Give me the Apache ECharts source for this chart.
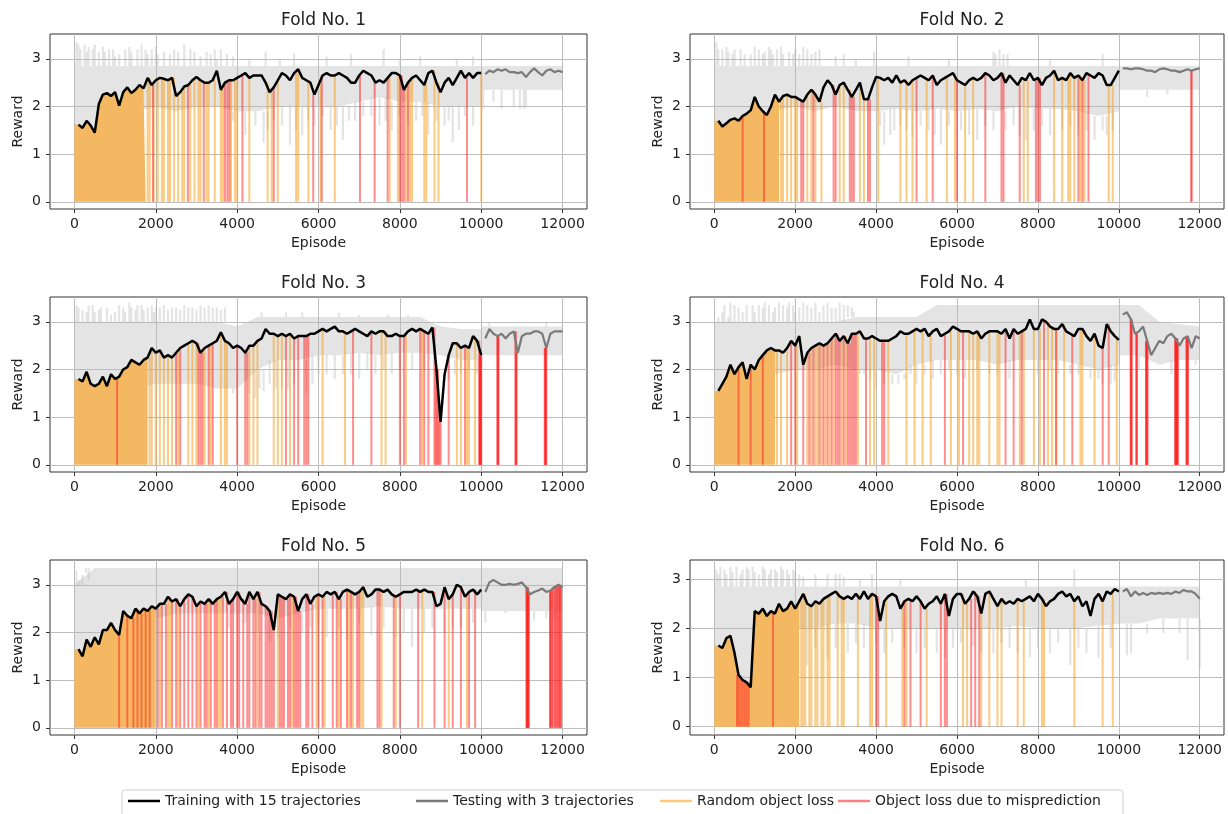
<!DOCTYPE html>
<html><head><meta charset="utf-8">
<script src="https://cdn.jsdelivr.net/npm/echarts@6/dist/echarts.min.js"></script>
<style>html,body{margin:0;padding:0;background:#fff}#c{width:1228px;height:814px}</style>
</head><body><div id="c"></div><script>
// ---------------- DATA ----------------
const foldTitles = ['Fold No. 1','Fold No. 2','Fold No. 3','Fold No. 4','Fold No. 5','Fold No. 6'];
const xTicks = [0,2000,4000,6000,8000,10000,12000];
const yTicks = [0,1,2,3];
const trainEpisodes = [100,200,300,400,500,600,700,800,900,1000,1100,1200,1300,1400,1500,1600,1700,1800,1900,2000,2100,2200,2300,2400,2500,2600,2700,2800,2900,3000,3100,3200,3300,3400,3500,3600,3700,3800,3900,4000,4100,4200,4300,4400,4500,4600,4700,4800,4900,5000,5100,5200,5300,5400,5500,5600,5700,5800,5900,6000,6100,6200,6300,6400,6500,6600,6700,6800,6900,7000,7100,7200,7300,7400,7500,7600,7700,7800,7900,8000,8100,8200,8300,8400,8500,8600,8700,8800,8900,9000,9100,9200,9300,9400,9500,9600,9700,9800,9900,10000];
const testEpisodes = [10100,10200,10300,10400,10500,10600,10700,10800,10900,11000,11100,11200,11300,11400,11500,11600,11700,11800,11900,12000];
const bandEpisodes = [0,500,1000,1500,2000,2500,3000,3500,4000,4500,5000,5500,6000,6500,7000,7500,8000,8500,9000,9500,10000];
const testBandEpisodes = [10000,10500,11000,11500,12000];

// Fold 1
const train1 = [1.62,1.55,1.70,1.60,1.45,2.05,2.25,2.28,2.22,2.30,2.02,2.30,2.40,2.28,2.35,2.45,2.38,2.60,2.45,2.55,2.60,2.58,2.55,2.60,2.22,2.30,2.42,2.45,2.55,2.62,2.55,2.50,2.50,2.55,2.75,2.35,2.50,2.55,2.55,2.60,2.65,2.70,2.60,2.65,2.65,2.65,2.50,2.30,2.40,2.55,2.70,2.65,2.55,2.70,2.78,2.60,2.55,2.50,2.25,2.45,2.65,2.70,2.65,2.65,2.70,2.65,2.60,2.50,2.50,2.65,2.75,2.70,2.65,2.50,2.55,2.50,2.60,2.70,2.70,2.65,2.35,2.50,2.60,2.65,2.55,2.45,2.70,2.75,2.50,2.30,2.50,2.60,2.45,2.60,2.75,2.60,2.70,2.60,2.70,2.70];
const test1 = [2.68,2.75,2.72,2.78,2.75,2.78,2.72,2.72,2.70,2.72,2.62,2.72,2.80,2.72,2.65,2.75,2.78,2.72,2.75,2.72];
const bandTop1 = [2.85,2.85,2.85,2.85,2.85,2.85,2.85,2.85,2.85,2.85,2.85,2.85,2.85,2.85,2.85,2.85,2.85,2.85,2.85,2.85,2.85];
const bandLow1 = [1.5,1.5,1.8,1.9,2.0,1.9,2.0,2.0,1.9,1.9,2.0,2.0,2.0,2.0,2.1,2.2,2.1,2.1,2.0,2.0,2.0];
const testBandTop1 = [2.85,2.85,2.85,2.85,2.85];
const testBandLow1 = [2.35,2.35,2.35,2.35,2.35];
const rawHigh1 = [[50,3.35],[100,3.3],[150,3.2],[250,3.3],[300,3.15],[350,3.25],[450,3.2],[500,3.3],[600,3.15],[700,3.25],[750,3.15],[850,3.2],[950,3.2],[1000,3.05],[1100,3.1],[1250,3.2],[1350,3.25],[1400,3.15],[1550,3.2],[1650,3.3],[1750,3.2],[1800,3.1],[1900,3.2],[2000,3.25],[2050,3.1],[2200,3.15],[2350,3.1],[2450,3.2],[2550,3.15],[2700,3.3],[2850,3.2],[2950,3.15],[3100,3.05],[3250,3.15],[3350,3.1],[3450,3.2],[3500,3.0],[3600,3.2],[3750,3.1],[3900,3.05],[4300,3.0],[4700,3.15],[5050,3.0],[5400,3.1],[6200,3.05],[6800,3.1],[7600,3.2],[8000,3.0],[8500,3.05],[9400,3.0],[9800,3.05]];
const rawLow1 = [[3900,1.7],[4000,1.9],[4200,1.4],[4450,1.6],[4650,1.25],[4750,1.5],[4900,1.7],[5100,1.6],[5300,1.2],[5450,1.5],[5600,1.4],[5750,1.7],[5900,1.6],[6100,1.8],[6300,1.5],[6450,1.6],[6600,1.3],[6750,1.7],[6900,1.7],[7100,1.8],[7300,1.8],[7500,1.6],[7650,1.7],[7800,1.5],[8000,1.8],[8200,1.6],[8400,1.7],[8550,1.8],[8700,1.4],[8900,1.7],[9100,1.6],[9200,1.7],[9300,1.25],[9450,1.5],[9600,1.8],[9800,1.6],[10050,1.95],[10300,2.1],[10500,1.95],[10800,2.0],[10950,1.95],[11050,1.95],[11100,2.0]];
const denseLossEnd1 = 1750;
const randomLoss1 = [1800,1850,1950,2050,2150,2200,2300,2350,2450,2550,2650,2700,2850,2950,3050,3100,3250,3300,3450,3600,3650,3850,3950,4000,4300,4750,4850,5000,5450,5500,5750,6050,6400,7750,7950,8150,8250,8300,8600,8650,8850,8950,10000];
const mispredLoss1 = [1930,2790,3180,3700,3760,3810,4130,4900,5870,6080,7020,7380,7700,8000,8050,8100,8200,9650];

// Fold 2
const train2 = [1.70,1.58,1.65,1.72,1.75,1.70,1.80,1.85,1.92,2.20,2.00,1.90,1.82,2.00,2.25,2.10,2.22,2.25,2.20,2.20,2.15,2.10,2.25,2.35,2.25,2.10,2.40,2.55,2.45,2.25,2.45,2.50,2.35,2.20,2.35,2.50,2.15,2.15,2.40,2.62,2.60,2.55,2.60,2.50,2.65,2.50,2.55,2.45,2.55,2.60,2.65,2.60,2.55,2.65,2.45,2.55,2.60,2.65,2.70,2.55,2.50,2.45,2.55,2.60,2.55,2.60,2.70,2.65,2.55,2.60,2.70,2.50,2.65,2.55,2.45,2.60,2.55,2.70,2.55,2.60,2.45,2.60,2.65,2.75,2.55,2.60,2.55,2.70,2.60,2.65,2.55,2.70,2.65,2.60,2.70,2.65,2.45,2.45,2.60,2.75];
const test2 = [2.80,2.80,2.78,2.80,2.80,2.78,2.75,2.75,2.72,2.78,2.80,2.78,2.75,2.75,2.72,2.75,2.78,2.75,2.78,2.80];
const bandTop2 = [2.85,2.85,2.85,2.85,2.85,2.85,2.85,2.85,2.85,2.85,2.85,2.85,2.85,2.85,2.85,2.85,2.85,2.85,2.85,2.85,2.85];
const bandLow2 = [1.6,1.6,1.8,1.9,2.0,1.9,2.0,1.9,1.9,1.95,1.9,1.95,1.9,1.95,1.9,2.0,1.95,1.95,1.9,1.8,1.9];
const testBandTop2 = [2.85,2.85,2.85,2.85,2.85];
const testBandLow2 = [2.35,2.35,2.35,2.35,2.35];
const rawHigh2 = [[50,3.35],[100,3.2],[200,3.2],[300,3.25],[350,3.15],[450,3.1],[500,3.2],[650,3.2],[750,3.1],[900,3.1],[1000,3.25],[1100,3.2],[1200,3.1],[1250,3.15],[1350,3.25],[1400,3.2],[1450,3.1],[1550,3.2],[1650,3.25],[1700,3.1],[1850,3.15],[1950,3.1],[2000,3.2],[2100,3.1],[2200,3.25],[2300,3.2],[2400,3.1],[2500,3.15],[2600,3.2],[3000,3.05],[3200,3.1],[3500,3.0],[3950,3.15],[4800,3.05],[5800,3.0],[6900,3.15],[6950,3.1],[7050,3.2],[7150,3.1],[7250,3.1],[8300,3.0],[9600,3.1]];
const rawLow2 = [[4100,1.6],[4200,1.2],[4350,1.4],[4450,1.5],[4600,1.6],[4750,1.5],[4900,1.35],[5100,1.6],[5300,1.5],[5450,1.4],[5600,1.2],[5800,1.6],[6100,1.5],[6300,1.4],[6500,1.3],[6700,1.6],[6900,1.5],[7200,1.5],[7400,1.6],[7550,1.4],[7700,1.3],[7900,1.5],[8100,1.6],[8300,1.4],[8600,1.5],[8800,1.6],[9000,1.4],[9200,1.5],[9400,1.3],[9600,1.5],[9700,1.4],[9850,1.5],[10700,2.2],[11200,2.25]];
const denseLossEnd2 = 1600;
const randomLoss2 = [1650,1700,1800,1900,2000,2050,2300,2400,2500,2650,3100,3200,3600,3700,4050,4600,4750,4900,5250,5750,5950,6200,6400,7650,7750,8400,8600,8750,8800,8900,9050,9150,9750,9850];
const mispredLoss2 = [700,1230,2150,2200,2450,2950,3000,3350,3400,3450,3800,3850,5000,5400,6000,6700,7100,7150,7550,7950,8000,8050,9000,9100,9250,11790,11800];

// Fold 3
const train3 = [1.80,1.75,1.95,1.70,1.65,1.70,1.85,1.65,1.90,1.80,1.85,2.00,2.05,2.20,2.15,2.10,2.20,2.25,2.45,2.35,2.40,2.25,2.30,2.25,2.35,2.45,2.50,2.55,2.60,2.55,2.35,2.45,2.50,2.55,2.60,2.78,2.60,2.55,2.45,2.50,2.45,2.35,2.50,2.50,2.60,2.65,2.85,2.75,2.75,2.70,2.75,2.70,2.75,2.65,2.70,2.70,2.70,2.75,2.75,2.80,2.85,2.80,2.85,2.90,2.80,2.80,2.75,2.80,2.85,2.80,2.75,2.70,2.80,2.75,2.80,2.80,2.70,2.70,2.75,2.70,2.70,2.80,2.85,2.80,2.85,2.80,2.75,2.88,2.00,0.90,1.90,2.30,2.55,2.55,2.45,2.50,2.45,2.70,2.60,2.30];
const test3 = [2.65,2.85,2.75,2.70,2.75,2.65,2.75,2.80,2.35,2.70,2.75,2.75,2.80,2.80,2.75,2.45,2.75,2.80,2.80,2.80];
const bandTop3 = [3.0,3.0,3.0,3.0,3.0,3.0,3.0,3.0,2.9,3.1,3.1,3.1,3.1,3.1,3.1,3.1,3.1,3.1,2.9,2.85,2.85];
const bandLow3 = [1.6,1.6,1.6,1.6,1.7,1.7,1.7,1.6,1.6,2.0,2.2,2.2,2.3,2.3,2.35,2.3,2.35,2.35,2.3,2.2,2.2];
const testBandTop3 = [2.9,2.9,2.9,2.9,2.9];
const testBandLow3 = [2.3,2.3,2.3,2.3,2.3];
const rawHigh3 = [[50,3.35],[100,3.3],[200,3.25],[300,3.2],[350,3.35],[450,3.35],[500,3.2],[600,3.25],[650,3.3],[800,3.3],[900,3.15],[1000,3.2],[1100,3.35],[1200,3.3],[1250,3.2],[1350,3.4],[1400,3.3],[1500,3.25],[1550,3.35],[1650,3.35],[1700,3.25],[1800,3.3],[1900,3.35],[1950,3.2],[2000,3.3],[2100,3.3],[2200,3.35],[2300,3.25],[2400,3.3],[2500,3.3],[2600,3.25],[2700,3.35],[2800,3.3],[2900,3.3],[3000,3.25],[3100,3.35],[3200,3.3],[3300,3.35],[3400,3.3],[3500,3.3],[3600,3.25],[3700,3.3],[4600,3.2],[5200,3.2],[5600,3.2],[6500,3.2],[7000,3.15],[7700,3.15],[8200,3.15],[10200,3.0],[11600,3.0]];
const rawLow3 = [[3900,1.5],[4300,1.5],[4450,1.4],[4550,1.6],[4650,1.55],[4800,1.7],[4950,1.6],[5100,1.6],[5250,1.6],[5400,1.7],[5700,1.5],[5850,1.7],[6000,1.9],[6200,1.9],[6400,1.8],[6600,1.9],[6800,1.9],[7000,1.8],[7200,2.0],[7400,1.9],[7600,2.0],[7800,1.9],[8000,2.0],[8300,2.0],[8600,2.0],[9200,1.8],[9350,1.9],[9500,1.9],[9700,2.0],[9900,1.9]];
const denseLossEnd3 = 1800;
const randomLoss3 = [1850,1900,2000,2100,2200,2300,2400,2550,2800,2900,3000,3200,3350,3600,3700,3750,4300,4400,4500,4900,5000,5100,5300,6100,6650,7550,7650,8150,8550,9400,9500,9650,9700,9850];
const mispredLoss3 = [1050,2500,2600,3050,3100,3150,3300,3400,4000,4200,4250,5200,5400,5500,5650,5700,5750,6850,7300,8000,8100,8500,8600,8700,8850,8880,8910,8940,8970,9000,9200,9600,9950,9960,9970,9980,9990,10000,10395,10405,10415,10425,10840,10850,10860,10870,11560,11570,11580,11590,11600];

// Fold 4
const train4 = [1.55,1.70,1.85,2.10,1.90,2.05,2.15,1.80,2.10,2.00,2.20,2.30,2.40,2.45,2.40,2.40,2.35,2.45,2.60,2.50,2.70,2.10,2.35,2.45,2.50,2.55,2.50,2.55,2.65,2.75,2.60,2.70,2.55,2.75,2.75,2.80,2.65,2.65,2.70,2.65,2.60,2.60,2.60,2.65,2.70,2.80,2.75,2.75,2.80,2.85,2.80,2.85,2.70,2.80,2.85,2.70,2.75,2.80,2.90,2.85,2.80,2.80,2.80,2.75,2.80,2.65,2.75,2.80,2.80,2.80,2.75,2.85,2.65,2.85,2.75,2.80,2.85,3.05,2.85,2.85,3.05,3.00,2.90,2.85,2.85,2.95,2.80,2.75,2.70,2.85,2.85,2.70,2.60,2.75,2.50,2.45,2.95,2.80,2.70,2.62];
const test4 = [3.15,3.20,3.05,2.75,2.80,2.90,2.60,2.30,2.45,2.60,2.55,2.70,2.75,2.65,2.50,2.65,2.70,2.45,2.70,2.65];
const bandTop4 = [3.0,3.0,3.0,3.0,3.0,3.0,3.0,3.1,3.1,3.1,3.1,3.35,3.35,3.35,3.35,3.35,3.35,3.35,3.35,3.35,3.35];
const bandLow4 = [1.5,1.6,1.8,1.9,2.0,2.0,2.1,2.0,2.0,1.9,2.1,2.2,2.2,2.2,2.1,2.2,2.2,2.2,2.1,2.0,2.1];
const testBandTop4 = [3.35,3.35,3.0,2.95,2.9];
const testBandLow4 = [2.3,2.3,2.1,2.2,2.2];
const rawHigh4 = [[100,3.1],[200,3.2],[250,3.35],[350,3.1],[400,3.4],[500,3.35],[600,3.3],[700,3.2],[800,3.35],[950,3.35],[1000,3.2],[1100,3.35],[1200,3.3],[1250,3.4],[1350,3.35],[1450,3.2],[1500,3.3],[1600,3.4],[1700,3.35],[1800,3.3],[1850,3.4],[1950,3.35],[2000,3.2],[2100,3.3],[2200,3.4],[2300,3.35],[2400,3.3],[2500,3.4],[2600,3.2],[2700,3.35],[2800,3.4],[2900,3.3],[3000,3.3],[3100,3.4],[3200,3.35],[3300,3.35],[3400,3.3],[3450,3.2]];
const rawLow4 = [[3600,1.9],[3700,1.9],[3850,1.8],[4000,1.6],[4200,1.7],[4400,1.7],[4550,1.7],[4700,1.8],[4850,1.9],[5000,1.7],[5200,1.9],[5400,1.8],[5600,1.9],[5800,2.0],[6000,1.9],[6200,1.8],[6500,2.0],[6800,1.9],[7000,1.9],[7300,1.8],[7600,2.0],[8000,1.9],[8300,2.0],[8500,1.9],[8800,1.9],[9000,1.9],[9300,1.8],[9500,1.8],[9600,1.7],[9800,1.7],[9900,1.75],[10500,2.0],[11300,1.9],[11900,2.1]];
const denseLossEnd4 = 1500;
const randomLoss4 = [1550,1650,1800,2050,2300,2400,2500,2550,2650,2750,2850,2950,3150,3250,3550,3850,3950,4300,4750,4950,5150,5350,5850,6050,6300,6400,6500,6550,6800,7000,7050,7550,7650,7900,8050,8250,8350,8450,8650,9050,9100,9400,9950];
const mispredLoss4 = [600,900,1200,1900,2000,2200,2350,2450,2600,2700,2800,2900,3000,3050,3100,3200,3300,3350,3400,3450,3500,3750,4150,4200,5700,6150,7200,7400,7600,8150,8450,8850,9600,9750,10290,10300,10310,10320,10430,10440,10450,10670,10680,10690,10700,10710,11390,11400,11410,11420,11430,11440,11450,11460,11670,11680,11690,11700,11710];

// Fold 5
const train5 = [1.65,1.50,1.85,1.70,1.90,1.75,2.05,2.05,2.20,2.05,1.95,2.45,2.35,2.30,2.50,2.40,2.50,2.45,2.55,2.50,2.60,2.60,2.75,2.65,2.70,2.55,2.70,2.80,2.75,2.55,2.65,2.60,2.70,2.60,2.70,2.75,2.85,2.60,2.70,2.85,2.70,2.60,2.85,2.70,2.85,2.60,2.55,2.45,2.05,2.80,2.75,2.70,2.80,2.75,2.45,2.70,2.80,2.60,2.75,2.80,2.75,2.85,2.80,2.85,2.70,2.85,2.90,2.85,2.80,2.85,2.95,2.75,2.80,2.90,2.90,2.85,2.90,2.80,2.75,2.80,2.85,2.85,2.85,2.90,2.85,2.90,2.85,2.85,2.55,2.60,2.95,2.70,2.80,3.00,2.95,2.75,2.85,2.90,2.80,2.90];
const test5 = [2.85,3.05,3.10,3.05,3.00,3.00,3.02,3.00,3.02,3.05,2.95,2.80,2.85,2.88,2.92,2.85,2.88,2.95,3.00,2.95];
const bandTop5 = [3.0,3.35,3.35,3.35,3.35,3.35,3.35,3.35,3.35,3.35,3.35,3.35,3.35,3.35,3.35,3.35,3.35,3.35,3.35,3.35,3.35];
const bandLow5 = [1.5,1.7,2.0,2.2,2.3,2.4,2.4,2.4,2.4,2.4,2.3,2.4,2.5,2.5,2.5,2.55,2.5,2.5,2.5,2.5,2.5];
const testBandTop5 = [3.35,3.35,3.35,3.35,3.35];
const testBandLow5 = [2.45,2.45,2.45,2.45,2.45];
const rawHigh5 = [[50,3.3],[120,3.1],[200,3.2],[280,3.25],[350,3.1]];
const rawLow5 = [[3800,2.1],[4200,2.2],[4500,2.0],[4800,1.8],[5000,1.9],[5300,2.1],[5600,2.0],[5800,2.1],[6000,2.2],[6200,1.9],[6500,2.1],[6700,1.85],[7000,2.2],[7300,1.95],[7600,2.1],[7900,1.9],[8100,2.0],[8300,1.7],[8600,2.0],[8800,2.1],[9100,2.0],[9300,2.1],[9500,2.1],[9800,2.2],[10100,2.2],[10600,2.4],[11300,2.25],[11600,2.3],[11800,2.3]];
const denseLossEnd5 = 2000;
const randomLoss5 = [2100,2300,2350,2550,3050,3300,3550,3600,4500,5000,5350,5950,6150,6500,6750,6850,7050,7100,7550,7900,8550,9200,9650];
const mispredLoss5 = [1100,1300,1450,1550,1650,1750,1850,2050,2150,2250,2400,2500,2600,2700,2800,2900,3000,3100,3200,3250,3350,3450,3500,3650,3750,3850,3900,4000,4050,4150,4250,4300,4400,4450,4550,4600,4700,4750,4800,4850,4900,5050,5100,5150,5250,5300,5400,5450,5500,5550,5700,5750,5850,6000,6100,6350,6450,6550,6700,6800,6950,7000,7450,7500,7850,8000,8450,8850,9100,9300,9500,9700,9850,11110,11120,11130,11140,11150,11160,11170,11690,11700,11710,11750,11760,11810,11820,11860,11870,11910,11920,11950,11960];

// Fold 6
const train6 = [1.65,1.60,1.80,1.85,1.50,1.05,0.95,0.90,0.80,2.35,2.30,2.40,2.25,2.35,2.30,2.50,2.35,2.40,2.55,2.40,2.55,2.70,2.50,2.45,2.55,2.50,2.60,2.65,2.70,2.75,2.65,2.60,2.65,2.60,2.70,2.60,2.75,2.60,2.70,2.65,2.15,2.55,2.65,2.70,2.65,2.40,2.55,2.60,2.55,2.65,2.55,2.40,2.50,2.55,2.65,2.50,2.70,2.25,2.60,2.70,2.70,2.50,2.60,2.75,2.65,2.30,2.70,2.75,2.60,2.45,2.60,2.50,2.55,2.50,2.60,2.55,2.60,2.65,2.55,2.70,2.60,2.45,2.55,2.60,2.70,2.75,2.65,2.70,2.55,2.65,2.45,2.55,2.25,2.60,2.70,2.55,2.75,2.70,2.80,2.75];
const test6 = [2.75,2.80,2.65,2.75,2.68,2.72,2.68,2.72,2.70,2.72,2.70,2.72,2.70,2.75,2.72,2.78,2.75,2.75,2.70,2.60];
const bandTop6 = [2.85,2.85,2.85,2.85,2.85,2.85,2.85,2.85,2.85,2.85,2.85,2.85,2.85,2.85,2.85,2.85,2.85,2.85,2.85,2.85,2.85];
const bandLow6 = [1.5,0.8,0.8,2.0,2.0,2.0,2.1,2.1,2.0,2.0,2.0,2.0,2.0,2.0,2.0,2.05,2.0,2.0,2.0,2.05,2.1];
const testBandTop6 = [2.85,2.85,2.85,2.85,2.85];
const testBandLow6 = [2.1,2.1,2.2,2.2,2.2];
const rawHigh6 = [[50,3.2],[100,3.1],[150,3.25],[250,3.2],[300,3.1],[400,3.25],[450,3.15],[550,3.25],[650,3.1],[700,3.2],[800,3.25],[850,3.2],[950,3.25],[1000,3.15],[1100,3.1],[1200,3.25],[1250,3.2],[1350,3.1],[1400,3.2],[1500,3.2],[1550,3.15],[1650,3.25],[1700,3.2],[1800,3.2],[1850,3.1],[1950,3.2],[2000,3.15],[2100,3.1],[2200,3.05],[2500,3.1],[2800,3.1],[3000,3.1],[3100,3.1],[3200,3.05],[3600,3.0],[3900,3.1],[4600,3.0],[7700,3.0],[8900,3.2]];
const rawLow6 = [[2300,1.25],[2500,1.6],[2800,1.4],[3000,1.6],[3300,1.5],[3500,1.7],[3700,1.6],[4000,1.7],[4200,1.5],[4400,1.7],[4700,1.6],[5000,1.5],[5200,1.6],[5500,1.5],[5700,1.4],[5900,1.6],[6100,1.7],[6400,1.65],[6600,1.5],[6900,1.5],[7100,1.7],[7300,1.6],[7500,1.5],[7800,1.4],[8000,1.6],[8300,1.5],[8500,1.7],[8800,1.25],[9000,1.6],[9200,1.5],[9500,1.4],[9800,1.6],[10200,1.45],[10300,1.5],[10700,1.9],[11100,1.9],[11500,1.9],[11700,1.35],[12000,1.2]];
const denseLossEnd6 = 2100;
const randomLoss6 = [2150,2200,2250,2350,2400,2500,2550,2650,2700,2800,2850,3050,3150,3200,3550,3850,3900,4250,4650,4750,5250,6150,6250,6600,6800,7000,7100,7500,7650,8100,8150,8900,9600,9850];
const mispredLoss6 = [560,600,650,700,750,800,850,1450,4000,4050,4700,4850,5100,5600,5700,5750,6350,6450,6550];

const yMax = [3.52,3.52,3.52,3.52,3.52,3.39];
const yMin = [-0.15,-0.15,-0.15,-0.15,-0.15,-0.17];

// ---------------- BUILD ----------------
const folds = [
 {train:train1,test:test1,bt:bandTop1,bl:bandLow1,tbt:testBandTop1,tbl:testBandLow1,hi:rawHigh1,lo:rawLow1,dense:denseLossEnd1,rnd:randomLoss1,mis:mispredLoss1},
 {train:train2,test:test2,bt:bandTop2,bl:bandLow2,tbt:testBandTop2,tbl:testBandLow2,hi:rawHigh2,lo:rawLow2,dense:denseLossEnd2,rnd:randomLoss2,mis:mispredLoss2},
 {train:train3,test:test3,bt:bandTop3,bl:bandLow3,tbt:testBandTop3,tbl:testBandLow3,hi:rawHigh3,lo:rawLow3,dense:denseLossEnd3,rnd:randomLoss3,mis:mispredLoss3},
 {train:train4,test:test4,bt:bandTop4,bl:bandLow4,tbt:testBandTop4,tbl:testBandLow4,hi:rawHigh4,lo:rawLow4,dense:denseLossEnd4,rnd:randomLoss4,mis:mispredLoss4},
 {train:train5,test:test5,bt:bandTop5,bl:bandLow5,tbt:testBandTop5,tbl:testBandLow5,hi:rawHigh5,lo:rawLow5,dense:denseLossEnd5,rnd:randomLoss5,mis:mispredLoss5},
 {train:train6,test:test6,bt:bandTop6,bl:bandLow6,tbt:testBandTop6,tbl:testBandLow6,hi:rawHigh6,lo:rawLow6,dense:denseLossEnd6,rnd:randomLoss6,mis:mispredLoss6}
];

const FONT = 'DejaVu Sans';
const GRAY = 'rgba(185,185,185,0.38)';
const ORANGE = 'rgba(248,160,30,0.55)';
const RED = 'rgba(255,30,30,0.5)';
const DENSE = '#f5b862';
const NAMES = ['Training with 15 trajectories','Testing with 3 trajectories','Random object loss','Object loss due to misprediction'];

const gridPos = [
 {left:50, top:34, width:537, height:175},
 {left:690, top:34, width:534, height:175},
 {left:50, top:297, width:537, height:175},
 {left:690, top:297, width:534, height:175},
 {left:50, top:560, width:537, height:175},
 {left:690, top:560, width:534, height:175}
];

function nearest(eps, vals, x){
  let b=0, bd=Infinity;
  for(let k=0;k<eps.length;k++){const d=Math.abs(eps[k]-x); if(d<bd){bd=d;b=k;}}
  return vals[b];
}
function curveAt(f,x){ return x<=10000 ? nearest(trainEpisodes,f.train,x) : nearest(testEpisodes,f.test,x); }
function bandAt(f,x,top){
  if(x<=10000) return nearest(bandEpisodes, top?f.bt:f.bl, x);
  return nearest(testBandEpisodes, top?f.tbt:f.tbl, x);
}

const grids=[], xAxes=[], yAxes=[], series=[], titles=[];
folds.forEach((f,i)=>{
  const g=gridPos[i];
  grids.push(Object.assign({show:true,borderColor:'#333',borderWidth:1,backgroundColor:'transparent',containLabel:false},g));
  titles.push({text:foldTitles[i], left:g.left+g.width/2, top:g.top-27, textAlign:'center',
    textStyle:{fontFamily:FONT,fontSize:17,fontWeight:'normal',color:'#222'}});
  xAxes.push({gridIndex:i,type:'value',min:-600,max:12600,
    axisLine:{show:false,onZero:false},
    axisTick:{show:true,length:4,inside:false,customValues:xTicks,lineStyle:{color:'#333'}},
    axisLabel:{customValues:xTicks,formatter:v=>String(v),fontFamily:FONT,fontSize:14,color:'#222',margin:8},
    splitLine:{show:true,lineStyle:{color:'#bdbdbd',width:1}},
    name:'Episode',nameLocation:'middle',nameGap:27,nameTextStyle:{fontFamily:FONT,fontSize:14,color:'#222'}});
  yAxes.push({gridIndex:i,type:'value',min:yMin[i],max:yMax[i],
    axisLine:{show:false,onZero:false},
    axisTick:{show:true,length:4,inside:false,customValues:yTicks,lineStyle:{color:'#333'}},
    axisLabel:{customValues:yTicks,formatter:v=>String(v),fontFamily:FONT,fontSize:14,color:'#222',margin:9},
    splitLine:{show:true,lineStyle:{color:'#bdbdbd',width:1}},
    name:'Reward',nameLocation:'middle',nameGap:25,nameRotate:90,nameTextStyle:{fontFamily:FONT,fontSize:14,color:'#222'}});

  // gray raw-reward band (training + testing)
  [[bandEpisodes,f.bt,f.bl],[testBandEpisodes,f.tbt,f.tbl]].forEach(([eps,top,low])=>{
    series.push({type:'custom',xAxisIndex:i,yAxisIndex:i,silent:true,z:1,animation:false,
      data:[[eps[0],low[0]]],
      renderItem:(p,api)=>{
        const pts=[];
        for(let k=0;k<eps.length;k++) pts.push(api.coord([eps[k],top[k]]));
        for(let k=eps.length-1;k>=0;k--) pts.push(api.coord([eps[k],low[k]]));
        return {type:'polygon',shape:{points:pts},style:{fill:GRAY}};
      }});
  });
  // gray raw spikes
  const spikes=[];
  f.hi.forEach(([x,v])=>spikes.push([x,bandAt(f,x,true),v]));
  f.lo.forEach(([x,v])=>spikes.push([x,bandAt(f,x,false),v]));
  series.push({type:'custom',xAxisIndex:i,yAxisIndex:i,silent:true,z:1,animation:false,
    data:spikes,
    renderItem:(p,api)=>{
      const a=api.coord([api.value(0),api.value(1)]), b=api.coord([api.value(0),api.value(2)]);
      return {type:'line',shape:{x1:a[0],y1:a[1],x2:b[0],y2:b[1]},style:{stroke:GRAY,lineWidth:2.2}};
    }});
  // dense early random-loss region
  const densePts=[[0,0],[0,f.train[0]]];
  trainEpisodes.forEach((e,k)=>{ if(e<=f.dense) densePts.push([e,f.train[k]]); });
  densePts.push([f.dense,0]);
  series.push({type:'custom',xAxisIndex:i,yAxisIndex:i,silent:true,z:2,animation:false,
    data:[[0,0]],
    renderItem:(p,api)=>({type:'polygon',shape:{points:densePts.map(d=>api.coord(d))},style:{fill:DENSE}})});
  // event lines
  const ev=(list,name,color,z)=>({type:'custom',name:name,xAxisIndex:i,yAxisIndex:i,silent:true,z:z,animation:false,
    itemStyle:{color:color},
    data:list.map(x=>[x,curveAt(f,x)]),
    renderItem:(p,api)=>{
      const a=api.coord([api.value(0),0]), b=api.coord([api.value(0),api.value(1)]);
      return {type:'line',shape:{x1:a[0],y1:a[1],x2:b[0],y2:b[1]},style:{stroke:color,lineWidth:2}};
    }});
  series.push(ev(f.rnd,NAMES[2],ORANGE,3));
  series.push(ev(f.mis,NAMES[3],RED,4));
  // smoothed curves
  series.push({type:'line',name:NAMES[1],xAxisIndex:i,yAxisIndex:i,z:5,animation:false,showSymbol:false,symbol:'none',
    data:testEpisodes.map((e,k)=>[e,f.test[k]]),lineStyle:{color:'#7a7a7a',width:2.2},itemStyle:{color:'#7a7a7a'}});
  series.push({type:'line',name:NAMES[0],xAxisIndex:i,yAxisIndex:i,z:6,animation:false,showSymbol:false,symbol:'none',
    data:trainEpisodes.map((e,k)=>[e,f.train[k]]),lineStyle:{color:'#000',width:2.5},itemStyle:{color:'#000'}});
});

const legendLefts=[128,416,660,838];
const legendColors=['#000','#7a7a7a','rgba(253,200,120,1)','rgba(255,128,128,1)'];
const legends=NAMES.map((n,k)=>({data:[{name:n,itemStyle:{color:legendColors[k]}}],left:legendLefts[k],top:794,
  icon:'rect',itemWidth:32,itemHeight:2.5,itemGap:8,selectedMode:false,padding:0,
  textStyle:{fontFamily:FONT,fontSize:14,color:'#222'}}));

const chart=echarts.init(document.getElementById('c'),null,{renderer:'canvas'});
chart.setOption({
  animation:false,
  backgroundColor:'#fff',
  title:titles,
  grid:grids, xAxis:xAxes, yAxis:yAxes,
  legend:legends,
  graphic:[{type:'rect',z:-1,shape:{x:122,y:790,width:1001,height:32,r:3},style:{fill:'#fff',stroke:'#cfcfcf',lineWidth:1}}],
  series:series
});
</script></body></html>
